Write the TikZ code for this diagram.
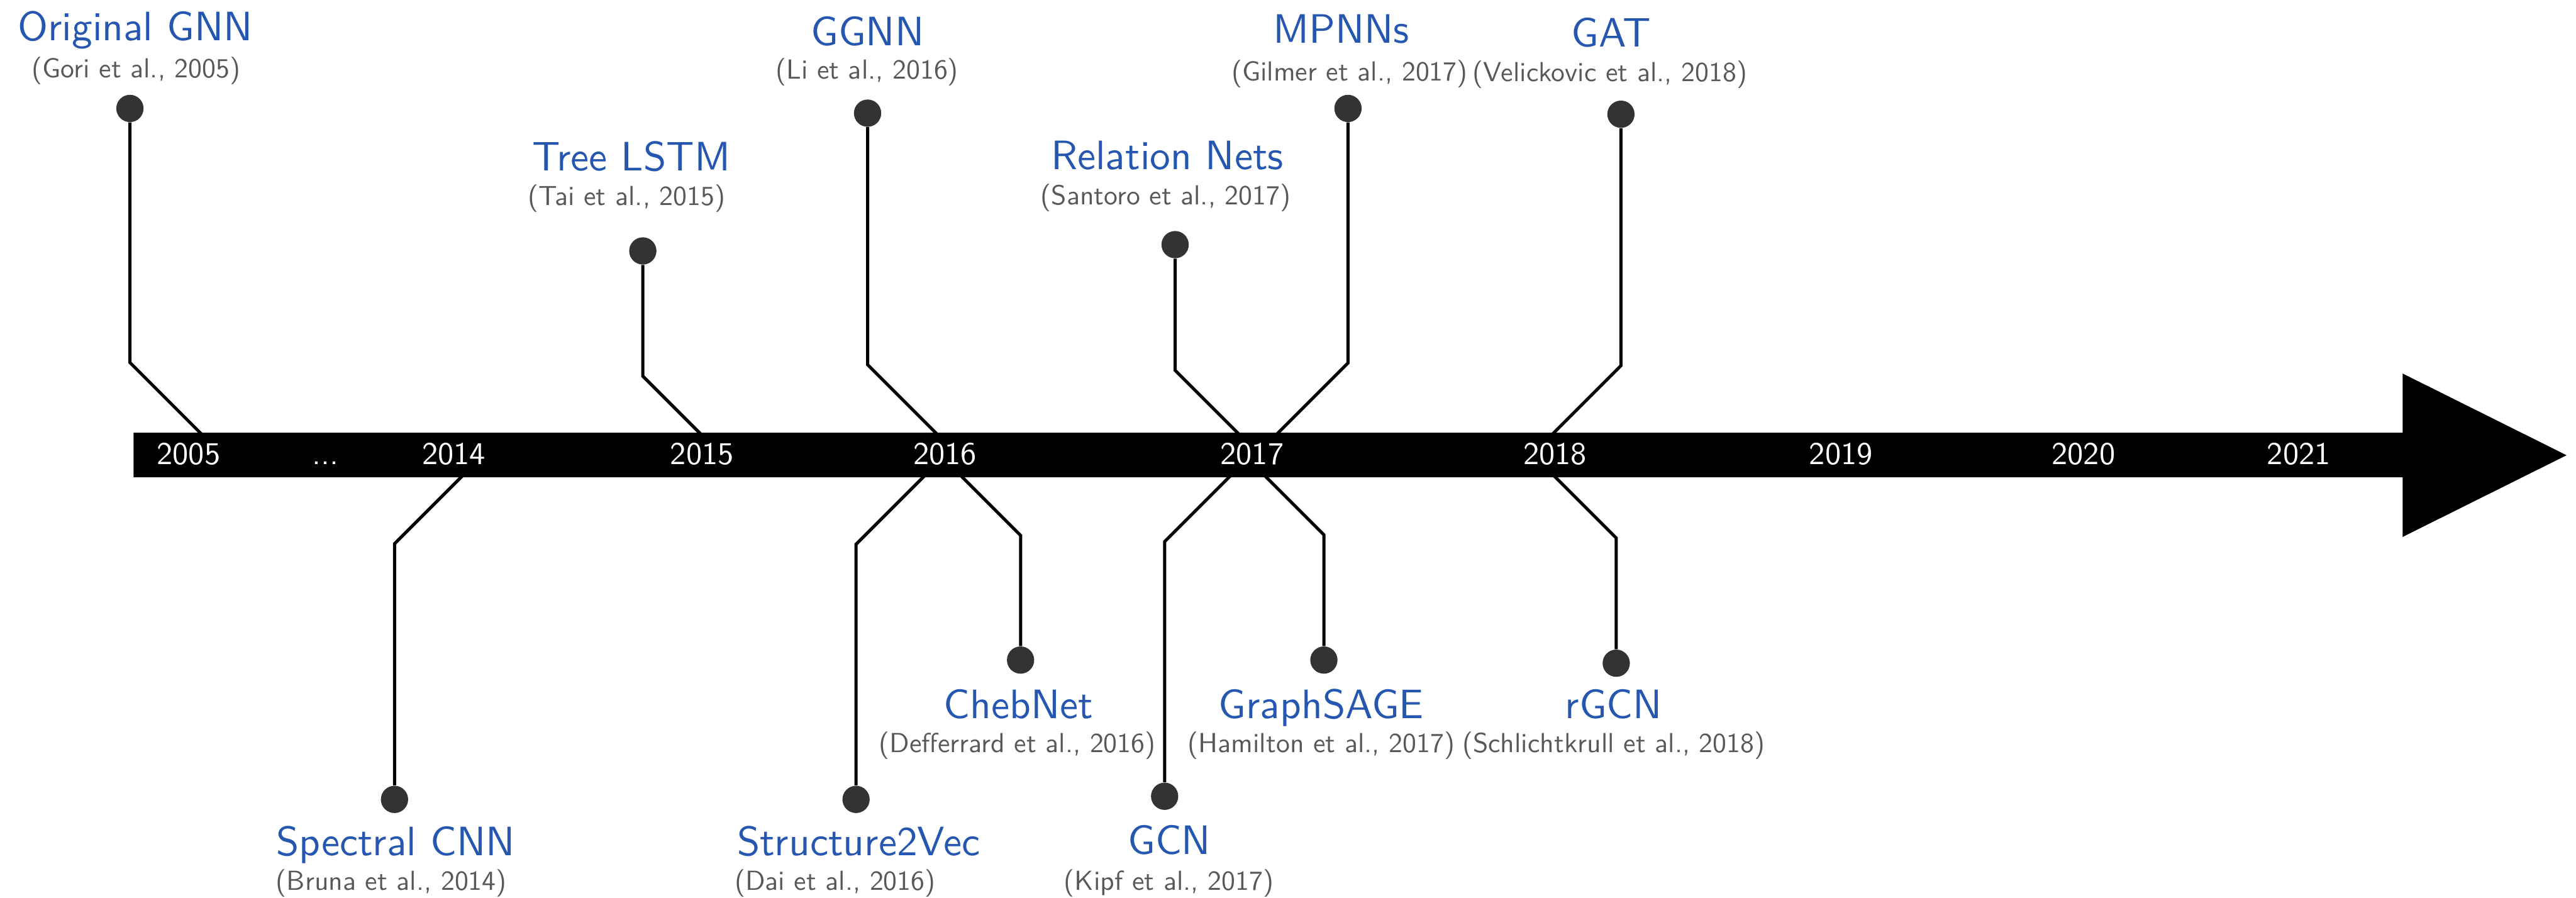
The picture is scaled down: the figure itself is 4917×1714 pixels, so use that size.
\documentclass[tikz,border=0pt]{standalone}
\usepackage{graphicx}
\definecolor{ttl}{RGB}{38,87,176}
\definecolor{cit}{RGB}{88,88,88}
\definecolor{dotc}{RGB}{51,51,51}
\newcommand\ttltxt[1]{\scalebox{2.233}{\fontsize{10}{12}\selectfont #1}}
\newcommand\cittxt[1]{\scalebox{1.494}{\fontsize{10}{12}\selectfont #1}}
\newcommand\yrtxt[1]{\scalebox{1.72}{\fontsize{10}{12}\selectfont #1}}
\begin{document}
\begin{tikzpicture}[x=0.01cm,y=-0.01cm,
  evdot/.style={circle,fill=dotc,inner sep=0pt,minimum size=0.52cm},
  conn/.style={line width=0.06cm,black},
  ttlnode/.style={anchor=base,text=ttl,font=\sffamily,inner sep=0pt},
  citnode/.style={anchor=base,text=cit,font=\sffamily,inner sep=0pt},
  yearnode/.style={anchor=base,text=white,font=\sffamily,inner sep=0pt}]
\useasboundingbox (0,0) rectangle (4917,1714);

% events above the bar
\foreach \n/\xb/\xd/\yd in {gnn/382/248/207, tree/1335/1227/479, ggnn/1786/1656/216, rel/2362/2243/467, mpnn/2440/2573/207, gat/2966/3094/218}{
  \pgfmathsetmacro\dd{abs(\xd-\xb)}
  \pgfmathsetmacro\sg{sign(\xb-\xd)}
  \node[evdot] (\n) at (\xd,\yd) {};
  \coordinate (\n-k) at (\xd,{826-\dd});
  \coordinate (\n-b) at ({\xb+8*\sg},834);
  \draw[conn] (\n) -- (\n-k) -- (\n-b);
}
% events below the bar
\foreach \n/\xb/\xd/\yd in {spec/880/753/1526, s2v/1762/1634/1526, cheb/1837/1948/1260, gcn/2346/2223/1520, sage/2417/2527/1260, rgcn/2969/3085/1266}{
  \pgfmathsetmacro\dd{abs(\xd-\xb)}
  \pgfmathsetmacro\sg{sign(\xb-\xd)}
  \node[evdot] (\n) at (\xd,\yd) {};
  \coordinate (\n-k) at (\xd,{911+\dd});
  \coordinate (\n-b) at ({\xb+8*\sg},903);
  \draw[conn] (\n) -- (\n-k) -- (\n-b);
}

% timeline arrow
\fill[black] (255,826) -- (4586,826) -- (4586,713) -- (4899,869) -- (4586,1025) -- (4586,911) -- (255,911) -- cycle;

% years
\node[yearnode] (y2005) at (360,886) {\yrtxt{2005}};
\node[yearnode] (ydots) at (621,886) {\yrtxt{...}};
\node[yearnode] (y2014) at (866,886) {\yrtxt{2014}};
\node[yearnode] (y2015) at (1340,886) {\yrtxt{2015}};
\node[yearnode] (y2016) at (1804,886) {\yrtxt{2016}};
\node[yearnode] (y2017) at (2390,886) {\yrtxt{2017}};
\node[yearnode] (y2018) at (2968,886) {\yrtxt{2018}};
\node[yearnode] (y2019) at (3514,886) {\yrtxt{2019}};
\node[yearnode] (y2020) at (3977,886) {\yrtxt{2020}};
\node[yearnode] (y2021) at (4388,886) {\yrtxt{2021}};

% labels above
\node[ttlnode] (gnn-t) at (258,77) {\ttltxt{Original GNN}};
\node[citnode] (gnn-c) at (260,148) {\cittxt{(Gori et al., 2005)}};
\node[ttlnode] (tree-t) at (1205,326) {\ttltxt{Tree LSTM}};
\node[citnode] (tree-c) at (1196,392) {\cittxt{(Tai et al., 2015)}};
\node[ttlnode] (ggnn-t) at (1656,87) {\ttltxt{GGNN}};
\node[citnode] (ggnn-c) at (1655,151) {\cittxt{(Li et al., 2016)}};
\node[ttlnode] (rel-t) at (2228,324) {\ttltxt{Relation Nets}};
\node[citnode] (rel-c) at (2225,391) {\cittxt{(Santoro et al., 2017)}};
\node[ttlnode] (mpnn-t) at (2560,82) {\ttltxt{MPNNs}};
\node[citnode] (mpnn-c) at (2576,154) {\cittxt{(Gilmer et al., 2017)}};
\node[ttlnode] (gat-t) at (3075,90) {\ttltxt{GAT}};
\node[citnode] (gat-c) at (3073,156) {\cittxt{(Velickovic et al., 2018)}};

% labels below
\node[ttlnode] (spec-t) at (755,1633) {\ttltxt{Spectral CNN}};
\node[citnode] (spec-c) at (747,1699) {\cittxt{(Bruna et al., 2014)}};
\node[ttlnode] (s2v-t) at (1639,1633) {\ttltxt{Structure2Vec}};
\node[citnode] (s2v-c) at (1594,1699) {\cittxt{(Dai et al., 2016)}};
\node[ttlnode] (cheb-t) at (1944,1372) {\ttltxt{ChebNet}};
\node[citnode] (cheb-c) at (1942,1436) {\cittxt{(Defferrard et al., 2016)}};
\node[ttlnode] (gcn-t) at (2232,1631) {\ttltxt{GCN}};
\node[citnode] (gcn-c) at (2231,1699) {\cittxt{(Kipf et al., 2017)}};
\node[ttlnode] (sage-t) at (2522,1372) {\ttltxt{GraphSAGE}};
\node[citnode] (sage-c) at (2522,1436) {\cittxt{(Hamilton et al., 2017)}};
\node[ttlnode] (rgcn-t) at (3080,1372) {\ttltxt{rGCN}};
\node[citnode] (rgcn-c) at (3080,1436) {\cittxt{(Schlichtkrull et al., 2018)}};
\end{tikzpicture}
\end{document}
